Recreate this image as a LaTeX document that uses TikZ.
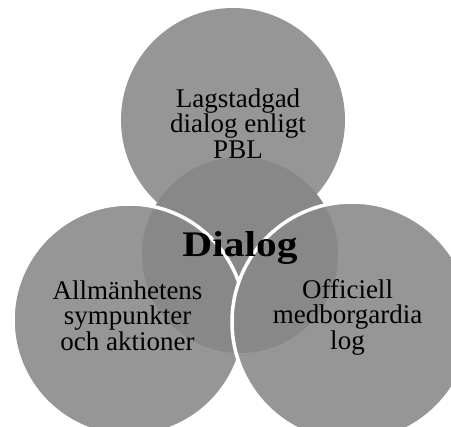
\documentclass[tikz,border=0pt]{standalone}
\usepackage{fontspec}
\setmainfont{Liberation Serif}
\tikzset{
  disc/.style={fill=black!41, draw=none},
  rim/.style={draw=white, line width=3.5pt},
  lbl/.style={align=center, inner sep=0pt, font=\fontsize{27}{25.5}\selectfont, text=black},
  title/.style={inner sep=0pt, font=\fontsize{36}{36}\selectfont\bfseries, text=black}
}
\begin{document}
\begin{tikzpicture}[x=1pt,y=-1pt]
\useasboundingbox (0,0) rectangle (451,427);
\clip (0,0) rectangle (451,427);
% circle centres
\coordinate (T) at (233,120);
\coordinate (L) at (129,320);
\coordinate (R) at (352,322);
\coordinate (C) at (240,255);
% central disc base
\fill[disc] (C) circle[radius=98pt];
% outer discs
\fill[disc] (T) circle[radius=112pt];
\fill[disc] (L) circle[radius=116pt];
\fill[disc] (R) circle[radius=120pt];
% central darker overlay
\fill[black, fill opacity=0.09] (C) circle[radius=98pt];
% white rims
\begin{scope}[even odd rule]
  \clip (-10,-10) rectangle (461,437) (R) circle[radius=120pt];
  \draw[rim] (L) circle[radius=116pt];
\end{scope}
\draw[rim] (R) circle[radius=120pt];
% texts
\node[lbl] (tt) at (238,123.3) {Lagstadgad\\dialog enligt\\PBL};
\node[lbl] (lt) at (127.5,315.5) {Allmänhetens\\sympunkter\\och aktioner};
\node[lbl] (rt) at (347.5,317) {Officiell\\medborgardia\\log};
\node[title, anchor=base] (d) at (240,257) {\scalebox{1.15}[1]{Dialog}};
\end{tikzpicture}
\end{document}
